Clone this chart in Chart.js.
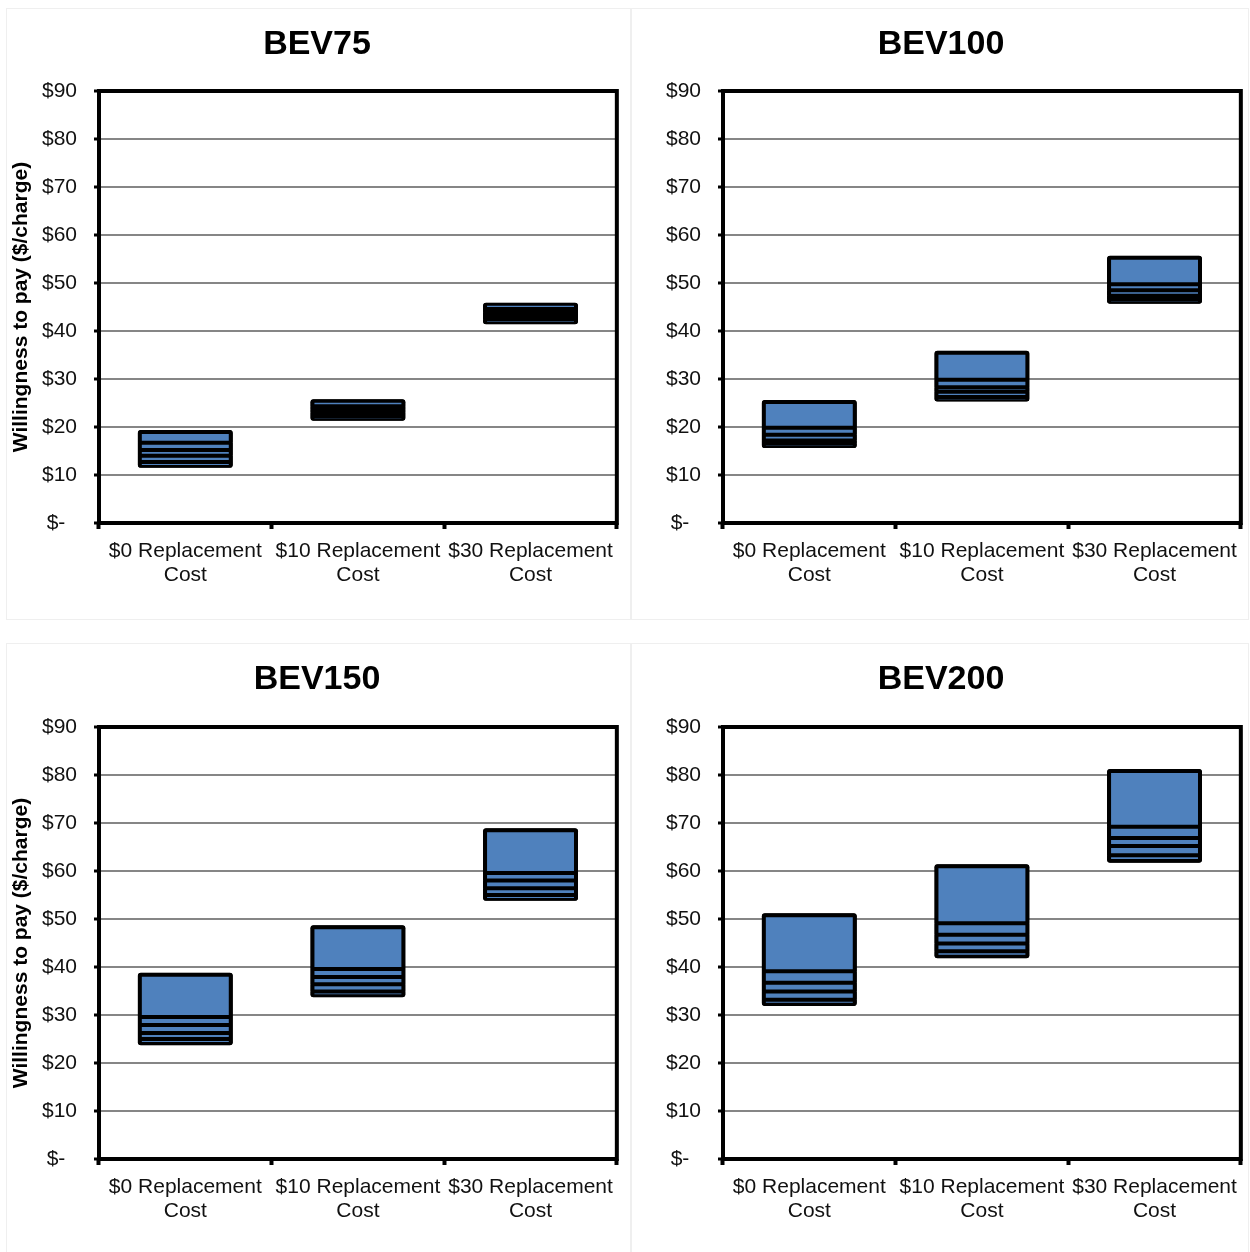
<!DOCTYPE html>
<html>
<head>
<meta charset="utf-8">
<title>Willingness to pay per charge by BEV range</title>
<script src="https://cdn.jsdelivr.net/npm/chart.js@4/dist/chart.umd.min.js"></script>
<style>
  html, body { margin: 0; padding: 0; background: #fff; overflow: hidden; }
  #wrap { position: relative; width: 1250px; height: 1252px; }
  .frame { position: absolute; border: 1px solid #efefef; box-sizing: border-box; }
  canvas { position: absolute; }
</style>
</head>
<body>
<div id="wrap">
  <div class="frame" style="left:6px;top:8px;width:625px;height:612px"></div>
  <div class="frame" style="left:631px;top:8px;width:618px;height:612px"></div>
  <div class="frame" style="left:6px;top:643px;width:625px;height:610px"></div>
  <div class="frame" style="left:631px;top:643px;width:618px;height:610px"></div>
  <canvas id="c0" width="624" height="636" style="left:0px;top:0px"></canvas>
  <canvas id="c1" width="624" height="636" style="left:624px;top:0px"></canvas>
  <canvas id="c2" width="624" height="636" style="left:0px;top:636px"></canvas>
  <canvas id="c3" width="624" height="636" style="left:624px;top:636px"></canvas>
</div>
<script>
// Replacement-cost scenarios on the x axis
const categories = [
  ['$0 Replacement', 'Cost'],
  ['$10 Replacement', 'Cost'],
  ['$30 Replacement', 'Cost']
];

// Y axis labels, $0 to $90 in steps of $10 (accounting style, zero shown as a dash)
const yTickLabels = ['$-', '$10', '$20', '$30', '$40', '$50', '$60', '$70', '$80', '$90'];

const panelTitles = ['BEV75', 'BEV100', 'BEV150', 'BEV200'];

// Willingness to pay ($/charge): band boundaries of each bar, low to high
const bev75 = [
  [11.5, 12.7, 14.0, 15.2, 16.7, 19.4],
  [21.3, 22.3, 23.0, 23.7, 24.3, 25.8],
  [41.4, 42.4, 43.1, 43.9, 44.6, 45.9]
];
const bev100 = [
  [15.6, 16.5, 17.2, 18.4, 19.85, 25.6],
  [25.3, 26.25, 27.35, 28.3, 29.85, 35.9],
  [45.7, 46.6, 47.35, 48.5, 49.75, 55.7]
];
const bev150 = [
  [23.7, 25.0, 26.25, 27.9, 29.6, 38.8],
  [33.7, 34.9, 36.4, 37.9, 39.6, 48.7],
  [53.8, 55.0, 56.4, 58.0, 59.6, 68.9]
];
const bev200 = [
  [31.9, 33.2, 34.9, 36.7, 39.1, 51.2],
  [41.8, 43.3, 44.9, 46.7, 49.1, 61.4],
  [61.7, 63.3, 65.2, 66.9, 69.2, 81.25]
];

const panelData = [bev75, bev100, bev150, bev200];

const FONT = '"Liberation Sans", Arial, Helvetica, sans-serif';
const BAR_BLUE = '#4f81bd';
const BAR_WIDTH = 0.55;

// Thick black frame around the plotting area
const plotFrame = {
  id: 'plotFrame',
  afterDraw(chart) {
    const a = chart.chartArea;
    const ctx = chart.ctx;
    ctx.save();
    ctx.strokeStyle = '#000';
    ctx.lineWidth = 4;
    ctx.strokeRect(a.left, a.top, a.right - a.left, a.bottom - a.top);
    ctx.restore();
  }
};

// Bold panel heading, centred on the panel rather than on the plot
const panelHeading = {
  id: 'panelHeading',
  afterDraw(chart, args, opts) {
    const ctx = chart.ctx;
    ctx.save();
    ctx.fillStyle = '#000';
    ctx.font = 'bold 34px ' + FONT;
    ctx.textAlign = 'center';
    ctx.textBaseline = 'middle';
    ctx.fillText(opts.text, opts.x, opts.y);
    ctx.restore();
  }
};

function buildDatasets(bounds) {
  const nBands = bounds[0].length - 1;
  const sets = [];
  // full-range black backing under the bands, so band edges join into solid rules
  sets.push({
    data: bounds.map(b => [b[0], b[nBands]]),
    backgroundColor: '#000',
    borderWidth: 0,
    borderRadius: 3,
    borderSkipped: false,
    inflateAmount: 0,
    grouped: false,
    barPercentage: BAR_WIDTH,
    categoryPercentage: 1.0,
    order: 1
  });
  for (let k = 0; k < nBands; k++) {
    const isBottom = k === 0;
    const isTop = k === nBands - 1;
    sets.push({
      data: bounds.map(b => [b[k], b[k + 1]]),
      backgroundColor: BAR_BLUE,
      borderColor: '#000',
      borderWidth: { top: isTop ? 4 : 2, bottom: isBottom ? 4 : 2, left: 4, right: 4 },
      borderSkipped: false,
      borderRadius: {
        topLeft: isTop ? 3 : 0, topRight: isTop ? 3 : 0,
        bottomLeft: isBottom ? 3 : 0, bottomRight: isBottom ? 3 : 0
      },
      inflateAmount: 0,
      grouped: false,
      barPercentage: BAR_WIDTH,
      categoryPercentage: 1.0,
      order: 0
    });
  }
  return sets;
}

panelData.forEach((bounds, p) => {
  const showYTitle = p % 2 === 0;
  new Chart(document.getElementById('c' + p), {
    type: 'bar',
    data: { labels: categories, datasets: buildDatasets(bounds) },
    options: {
      responsive: false,
      animation: false,
      devicePixelRatio: 1,
      layout: { padding: { left: 0, right: 7, top: 91, bottom: 0 } },
      plugins: {
        legend: { display: false },
        tooltip: { enabled: false },
        title: { display: false },
        panelHeading: { text: panelTitles[p], x: 317, y: p < 2 ? 45 : 44 }
      },
      scales: {
        x: {
          offset: true,
          border: { display: false },
          grid: {
            offset: true,
            drawOnChartArea: false,
            tickLength: 6,
            tickColor: '#000',
            tickWidth: 4
          },
          ticks: {
            color: '#111',
            font: { family: FONT, size: 21, lineHeight: 1.15 },
            padding: 10,
            maxRotation: 0,
            autoSkip: false
          },
          afterFit(s) { s.height = 113; }
        },
        y: {
          min: 0,
          max: 90,
          border: { display: false },
          grid: {
            color: '#868686',
            lineWidth: 2,
            tickLength: 5,
            tickColor: '#000',
            tickWidth: 3
          },
          ticks: {
            stepSize: 10,
            color: '#111',
            padding: 17,
            font: { family: FONT, size: 21 },
            callback: (v, i) => yTickLabels[i] + (v === 0 ? '  ' : '')
          },
          title: {
            display: showYTitle,
            text: 'Willingness to pay ($/charge)',
            color: '#000',
            font: { family: FONT, size: 21, weight: 'bold' },
            padding: { top: 9, bottom: 0 }
          },
          afterFit(s) { s.width = 99; }
        }
      }
    },
    plugins: [plotFrame, panelHeading]
  });
});
</script>
</body>
</html>
